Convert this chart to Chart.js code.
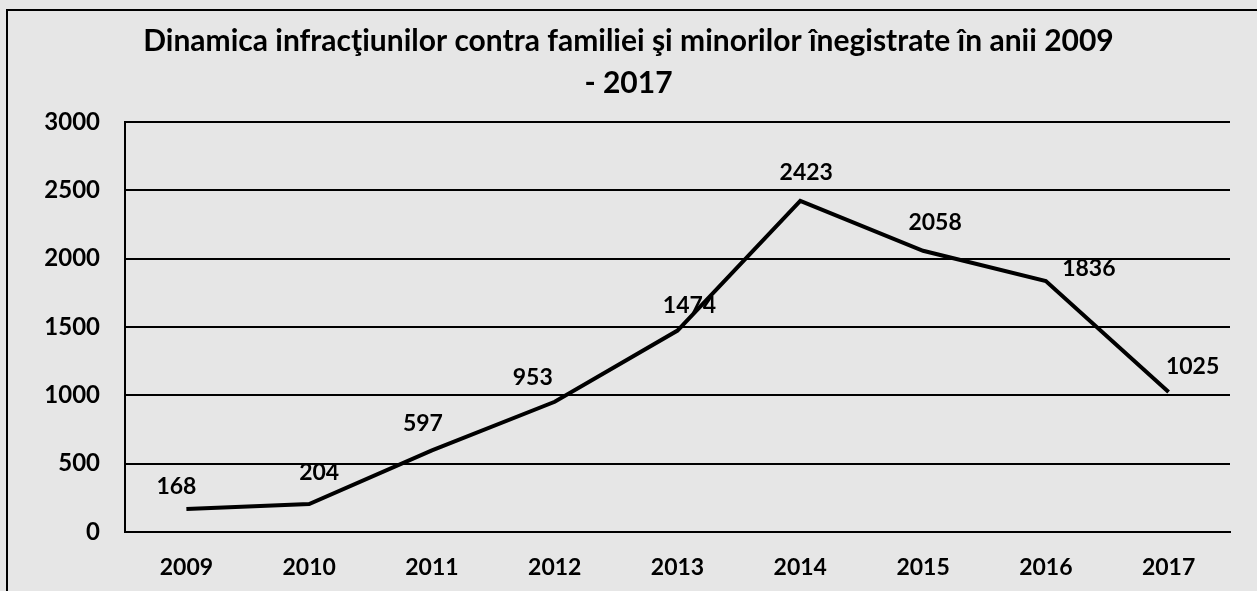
<!DOCTYPE html>
<html>
<head>
<meta charset="utf-8">
<script src="https://cdn.jsdelivr.net/npm/chart.js@4/dist/chart.umd.min.js"></script>
<style>
  html, body { margin: 0; padding: 0; background: #e6e6e6; }
  #wrap { position: relative; width: 1257px; height: 591px; }
</style>
</head>
<body>
<div id="wrap"><canvas id="c" width="1257" height="591"></canvas></div>
<script>
// ---- data ----
const categories = ['2009', '2010', '2011', '2012', '2013', '2014', '2015', '2016', '2017'];
const values = [168, 204, 597, 953, 1474, 2423, 2058, 1836, 1025];
const yTicks = [0, 500, 1000, 1500, 2000, 2500, 3000];
const titleLines = ['Dinamica infracţiunilor contra familiei şi minorilor înegistrate în anii 2009', '- 2017'];

// label placement offsets (style only)
const labelOffsets = [[-10, -22], [10, -32], [-9, -27], [-22, -24], [12, -25], [6, -28], [12, -28], [43, -13], [24, -25]];

const FONT = 'Lato, "Open Sans", sans-serif';

const framePlugin = {
  id: 'frame',
  beforeDraw(chart) {
    const ctx = chart.ctx;
    ctx.save();
    ctx.fillStyle = '#e6e6e6';
    ctx.fillRect(0, 0, chart.width, chart.height);
    ctx.strokeStyle = '#000';
    ctx.lineWidth = 2;
    ctx.beginPath();
    ctx.moveTo(7, chart.height);
    ctx.lineTo(7, 10);
    ctx.lineTo(chart.width, 10);
    ctx.stroke();
    ctx.restore();
  }
};

const labelPlugin = {
  id: 'pointLabels',
  afterDatasetsDraw(chart) {
    const ctx = chart.ctx;
    const meta = chart.getDatasetMeta(0);
    ctx.save();
    ctx.font = 'bold 23px ' + FONT;
    ctx.fillStyle = '#000';
    ctx.textAlign = 'center';
    ctx.textBaseline = 'middle';
    meta.data.forEach((pt, i) => {
      const off = labelOffsets[i] || [0, -25];
      ctx.fillText(String(values[i]), pt.x + off[0], pt.y + off[1]);
    });
    ctx.restore();
  }
};

new Chart(document.getElementById('c'), {
  type: 'line',
  data: {
    labels: categories,
    datasets: [{
      data: values,
      borderColor: '#000',
      borderWidth: 4,
      pointRadius: 0,
      tension: 0,
      fill: false
    }]
  },
  options: {
    responsive: false,
    animation: false,
    devicePixelRatio: 1,
    layout: { padding: { top: 10, left: 0, right: 0, bottom: 0 } },
    plugins: {
      legend: { display: false },
      tooltip: { enabled: false },
      title: {
        display: true,
        text: titleLines,
        color: '#000',
        font: { family: FONT, size: 30, weight: 'bold', lineHeight: 1.4 },
        padding: { top: 10, bottom: 18 }
      }
    },
    scales: {
      x: {
        offset: true,
        grid: { display: false, drawTicks: false },
        border: { display: true, color: '#000', width: 2 },
        ticks: { color: '#000', font: { family: FONT, size: 23, weight: 'bold' }, padding: 22, maxRotation: 0 },
        afterFit(scale) { scale.height = 59; }
      },
      y: {
        min: 0,
        max: 3000,
        afterBuildTicks(scale) { scale.ticks = yTicks.map(v => ({ value: v })); },
        grid: { color: '#000', lineWidth: 2, drawTicks: false },
        border: { display: true, color: '#000', width: 2 },
        ticks: {
          color: '#000',
          font: { family: FONT, size: 24, weight: 'bold' },
          padding: 25,
          callback: (v) => String(v)
        },
        afterFit(scale) { scale.width = 125; }
      },
      yRight: {
        position: 'right',
        min: 0,
        max: 3000,
        grid: { display: false, drawTicks: false },
        border: { display: false },
        ticks: { display: false },
        afterFit(scale) { scale.width = 27; }
      }
    }
  },
  plugins: [framePlugin, labelPlugin]
});
</script>
</body>
</html>
